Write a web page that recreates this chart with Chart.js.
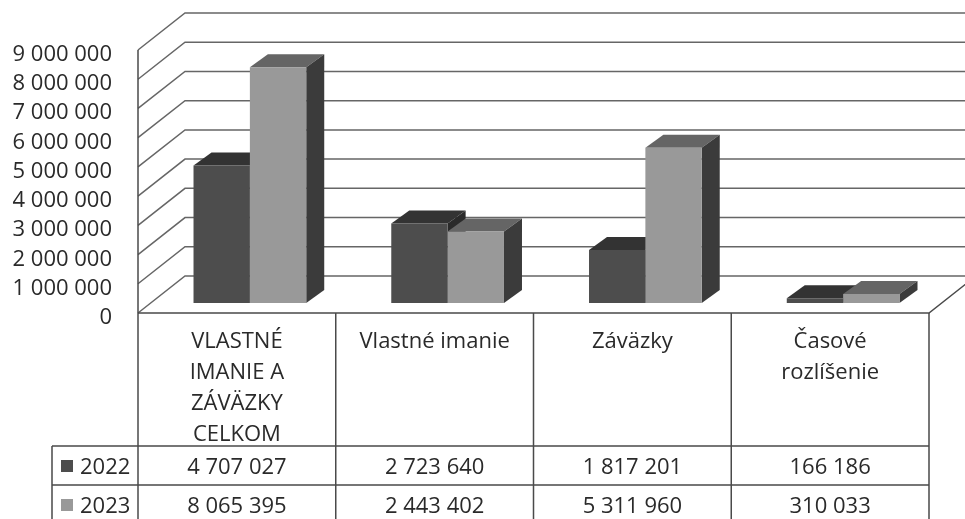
<!DOCTYPE html>
<html>
<head>
<meta charset="utf-8">
<script src="https://cdn.jsdelivr.net/npm/chart.js@4"></script>
<style>
  body { margin: 0; background: #fff; }
  #wrap { width: 965px; height: 519px; }
</style>
</head>
<body>
<div id="wrap"><canvas id="chart"></canvas></div>
<script>
// Data
const categories = [
  ["VLASTNÉ", "IMANIE A", "ZÁVÄZKY", "CELKOM"],
  ["Vlastné imanie"],
  ["Záväzky"],
  ["Časové", "rozlíšenie"]
];
const years = ["2022", "2023"];
const values2022 = [4707027, 2723640, 1817201, 166186];
const values2023 = [8065395, 2443402, 5311960, 310033];
const yMax = 9000000;
const yStep = 1000000;

// Look of the fake 3D box
const FRONT = { x: -13, y: 10 };  // front plane, relative to the bar faces
const BACK = { x: 34, y: -27 };   // back wall
const DEPTH = { x: 18, y: -13 };  // depth of one bar
const colors = [
  { front: "#4d4d4d", top: "#333333", side: "#2a2a2a" },
  { front: "#999999", top: "#656565", side: "#3b3b3b" }
];
const FONT = '22px "Open Sans"';
const TEXT = "#2a2a2a";
const LINE = "#666666";
const EDGE = "#4a4a4a";

function fmt(n) {
  return String(n).replace(/\B(?=(\d{3})+(?!\d))/g, " ");
}

function poly(ctx, pts, fill) {
  ctx.beginPath();
  ctx.moveTo(pts[0][0], pts[0][1]);
  for (let i = 1; i < pts.length; i++) ctx.lineTo(pts[i][0], pts[i][1]);
  ctx.closePath();
  ctx.fillStyle = fill;
  ctx.fill();
}

const scene3d = {
  id: "scene3d",
  beforeDatasetsDraw(chart) {
    const ctx = chart.ctx;
    const { left, right } = chart.chartArea;
    const ys = chart.scales.y;
    ctx.save();
    ctx.strokeStyle = LINE;
    ctx.lineWidth = 1.5;

    // side wall + back wall grid
    ys.ticks.forEach(t => {
      const p = ys.getPixelForValue(t.value);
      ctx.beginPath();
      ctx.moveTo(left + FRONT.x, p + FRONT.y);
      ctx.lineTo(left + BACK.x, p + BACK.y);
      ctx.lineTo(chart.width + 10, p + BACK.y);
      ctx.stroke();
    });

    // floor edges
    const b = ys.getPixelForValue(0);
    const fx = right + FRONT.x, fy = b + FRONT.y;
    ctx.strokeStyle = EDGE;
    ctx.beginPath();
    ctx.moveTo(left + FRONT.x, fy);
    ctx.lineTo(fx, fy);
    ctx.lineTo(fx + (BACK.x - FRONT.x), fy + (BACK.y - FRONT.y));
    ctx.stroke();

    // front left edge, down through the table
    ctx.beginPath();
    ctx.moveTo(left + FRONT.x, ys.getPixelForValue(yMax) + FRONT.y);
    ctx.lineTo(left + FRONT.x, chart.height);
    ctx.stroke();

    // bar tops and sides (fronts are drawn by Chart.js)
    const metas = chart.data.datasets.map((d, j) => chart.getDatasetMeta(j));
    for (let i = 0; i < categories.length; i++) {
      metas.forEach((meta, j) => {
        const { x, y, base, width } = meta.data[i].getProps(["x", "y", "base", "width"], true);
        const l = x - width / 2, r = x + width / 2;
        poly(ctx, [[l, y], [r, y], [r + DEPTH.x, y + DEPTH.y], [l + DEPTH.x, y + DEPTH.y]], colors[j].top);
        poly(ctx, [[r, y], [r + DEPTH.x, y + DEPTH.y], [r + DEPTH.x, base + DEPTH.y], [r, base]], colors[j].side);
      });
    }
    ctx.restore();
  },
  afterDraw(chart) {
    const ctx = chart.ctx;
    const { left, right } = chart.chartArea;
    const ys = chart.scales.y;
    const xs = chart.scales.x;
    ctx.save();
    ctx.font = FONT;
    ctx.fillStyle = TEXT;
    ctx.textBaseline = "alphabetic";

    // y labels
    ctx.textAlign = "right";
    ys.ticks.forEach(t => {
      const p = ys.getPixelForValue(t.value) + FRONT.y;
      ctx.fillText(fmt(t.value), 112, p + 11);
    });

    // data table
    const colW = (right - left) / categories.length;
    const tLeft = left + FRONT.x, tRight = right + FRONT.x;
    const rowTop = 446, rowH = 39, labelX = 52;
    ctx.strokeStyle = EDGE;
    ctx.lineWidth = 1.5;
    ctx.beginPath();
    for (let k = 0; k < 2; k++) {
      ctx.moveTo(labelX, rowTop + k * rowH);
      ctx.lineTo(tRight, rowTop + k * rowH);
    }
    ctx.moveTo(labelX, rowTop);
    ctx.lineTo(labelX, chart.height);
    const fy = ys.getPixelForValue(0) + FRONT.y;
    for (let i = 1; i <= categories.length; i++) {
      ctx.moveTo(tLeft + i * colW, fy);
      ctx.lineTo(tLeft + i * colW, chart.height);
    }
    ctx.stroke();

    ctx.textAlign = "center";
    categories.forEach((lines, i) => {
      const cx = xs.getPixelForValue(i) + FRONT.x;
      lines.forEach((s, k) => ctx.fillText(s, cx, 348 + k * 31));
      ctx.fillText(fmt(values2022[i]), cx, rowTop + 28);
      ctx.fillText(fmt(values2023[i]), cx, rowTop + rowH + 28);
    });

    // row labels with legend keys
    ctx.textAlign = "left";
    years.forEach((yr, k) => {
      const cy = rowTop + 20 + k * rowH;
      ctx.fillStyle = colors[k].front;
      ctx.fillRect(61, cy - 6, 12, 12);
      ctx.fillStyle = TEXT;
      ctx.fillText(yr, 80, cy + 8);
    });
    ctx.restore();
  }
};

new Chart(document.getElementById("chart"), {
  type: "bar",
  data: {
    labels: categories,
    datasets: [
      { label: years[0], data: values2022, backgroundColor: colors[0].front },
      { label: years[1], data: values2023, backgroundColor: colors[1].front }
    ]
  },
  options: {
    responsive: true,
    maintainAspectRatio: false,
    animation: false,
    layout: { padding: { left: 151, right: 23, top: 40, bottom: 216 } },
    datasets: { bar: { categoryPercentage: 0.57, barPercentage: 1, borderWidth: 0 } },
    plugins: { legend: { display: false }, tooltip: { enabled: false } },
    scales: {
      x: { display: false },
      y: { display: false, min: 0, max: yMax, ticks: { stepSize: yStep } }
    }
  },
  plugins: [scene3d]
});
</script>
</body>
</html>
